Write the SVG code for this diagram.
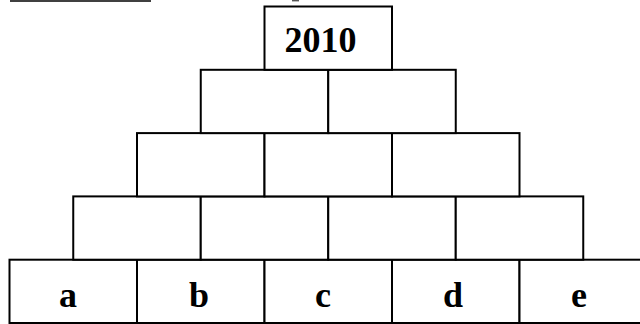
<svg xmlns="http://www.w3.org/2000/svg" width="640" height="324" viewBox="0 0 640 324">
<style>
.b{fill:#fff;stroke:#000;stroke-width:2}
.t{font-family:"Liberation Serif","Times New Roman",serif;font-weight:bold;font-size:36px;text-anchor:middle;fill:#000}
</style>
<rect width="640" height="324" fill="#fff"/>
<line x1="10" y1="1" x2="151" y2="1" stroke="#000" stroke-width="1.6"/>
<rect x="292" y="0" width="7" height="1.4" fill="#555"/>
<g id="row5">
<g id="a"><rect class="b" x="9.5" y="259.7" width="127.5" height="63.3"/><text class="t" x="68" y="306.5">a</text></g>
<g id="b"><rect class="b" x="137" y="259.7" width="127.5" height="63.3"/><text class="t" x="199" y="306.5">b</text></g>
<g id="c"><rect class="b" x="264.5" y="259.7" width="127.5" height="63.3"/><text class="t" x="323" y="306.5">c</text></g>
<g id="d"><rect class="b" x="392" y="259.7" width="127.5" height="63.3"/><text class="t" x="453" y="306.5">d</text></g>
<g id="e"><rect class="b" x="519.5" y="259.7" width="127.5" height="63.3"/><text class="t" x="579" y="306.5">e</text></g>
</g>
<g id="row4">
<g id="r4c1"><rect class="b" x="73.25" y="196.4" width="127.5" height="63.3"/></g>
<g id="r4c2"><rect class="b" x="200.75" y="196.4" width="127.5" height="63.3"/></g>
<g id="r4c3"><rect class="b" x="328.25" y="196.4" width="127.5" height="63.3"/></g>
<g id="r4c4"><rect class="b" x="455.75" y="196.4" width="127.5" height="63.3"/></g>
</g>
<g id="row3">
<g id="r3c1"><rect class="b" x="137" y="133.1" width="127.5" height="63.3"/></g>
<g id="r3c2"><rect class="b" x="264.5" y="133.1" width="127.5" height="63.3"/></g>
<g id="r3c3"><rect class="b" x="392" y="133.1" width="127.5" height="63.3"/></g>
</g>
<g id="row2">
<g id="r2c1"><rect class="b" x="200.75" y="69.8" width="127.5" height="63.3"/></g>
<g id="r2c2"><rect class="b" x="328.25" y="69.8" width="127.5" height="63.3"/></g>
</g>
<g id="top">
<rect class="b" x="264.5" y="6.5" width="127.5" height="63.3"/>
<text class="t" x="320.5" y="51.5">2010</text>
</g>
<g id="connectors"/>
</svg>
